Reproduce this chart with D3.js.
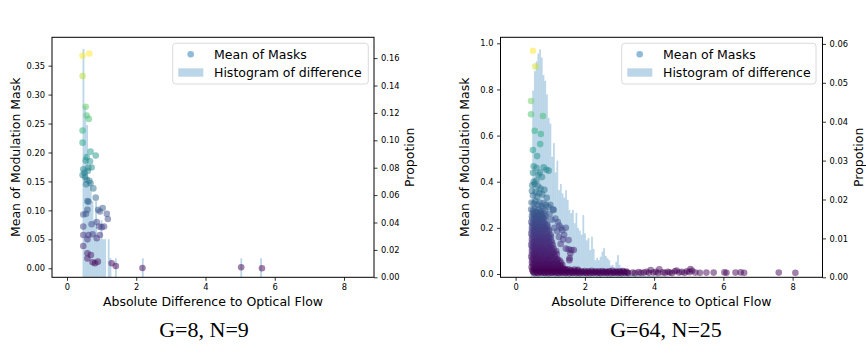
<!DOCTYPE html>
<html><head><meta charset="utf-8">
<script src="https://cdn.jsdelivr.net/npm/d3@7"></script>
<style>body{margin:0;background:#fff}svg{display:block}text{font-family:"DejaVu Sans",sans-serif}</style>
</head><body>
<svg id="c" width="866" height="356"></svg>
<script>
// ---------------- DATA ----------------
const xTicks = [0, 2, 4, 6, 8];
const leftMaskTicks = [0, 0.05, 0.10, 0.15, 0.20, 0.25, 0.30, 0.35];
const leftPropTicks = [0, 0.02, 0.04, 0.06, 0.08, 0.10, 0.12, 0.14, 0.16];
const rightMaskTicks = [0, 0.2, 0.4, 0.6, 0.8, 1.0];
const rightPropTicks = [0, 0.01, 0.02, 0.03, 0.04, 0.05, 0.06];
const captions = ["G=8, N=9", "G=64, N=25"];
const legendLabels = ["Mean of Masks", "Histogram of difference"];

// left panel histogram (bin left edge, proportion)
const leftHistW = 0.0518;
const leftHistX = [0.45,0.502,0.554,0.606,0.658,0.710,0.762,0.814,0.866,0.918,0.970,1.022,1.074,1.178,1.230,1.385,2.163,5.008,5.578];
const leftHistP = [0.1667,0.125,0.1111,0.0694,0.0694,0.0556,0.0417,0.0556,0.0278,0.0278,0.0417,0.0278,0.0278,0.0278,0.0139,0.0139,0.0139,0.0139,0.0139];

// left panel scatter (difference, mean mask)
const leftPts = [
[0.45,0.367],[0.645,0.371],[0.45,0.332],[0.54,0.279],[0.57,0.264],[0.63,0.258],[0.45,0.238],[0.45,0.217],
[0.68,0.2015],[0.83,0.1946],[0.57,0.192],[0.54,0.186],[0.665,0.185],[0.71,0.174],[0.616,0.174],[0.47,0.171],
[0.45,0.161],[0.52,0.158],[0.57,0.153],[0.645,0.151],[0.68,0.147],[0.5,0.165],[0.6,0.168],[0.55,0.145],
[0.76,0.138],[0.83,0.122],[0.59,0.116],[0.62,0.115],[0.59,0.101],[0.47,0.093],[0.55,0.094],[0.9,0.101],
[0.95,0.098],[1.03,0.104],[1.15,0.094],[1.18,0.085],[0.47,0.072],[0.71,0.076],[0.86,0.080],[0.93,0.072],
[1.0,0.071],[1.07,0.072],[0.47,0.0575],[0.62,0.0575],[0.59,0.050],[0.74,0.0587],[0.86,0.052],[0.95,0.0575],
[0.47,0.0385],[0.59,0.026],[0.69,0.0229],[0.59,0.017],[0.74,0.0104],[0.81,0.0086],[0.89,0.0114],
[1.29,0.0086],[1.41,0.004],[2.18,0.0005],[5.03,0.0017],[5.63,0.000]
];

// right panel histogram
const rightHistStart = 0.43, rightHistW = 0.05;
const rightHistP = [
0.002,0.048,0.053,0.0555,0.0575,0.0586,0.0565,0.052,0.0505,0.047,
0.041,0.0395,0.031,0.0345,0.027,0.030,0.0224,0.024,0.0216,0.0205,
0.0224,0.0199,0.0173,0.0165,0.0173,0.0139,0.0166,0.0127,0.012,0.011,
0.016,0.0113,0.0095,0.0101,0.007,0.0104,0.0073,0.0044,0.005,0.0044,
0.0053,0.0066,0.0075,0.0055,0.0049,0.0044,0.003,0.0032,0.0025,0.004,
0.0057,0.0032,0.0025,0.0015,0.001,0.0012,0.0008,0.001,0.0006,0.0009,
0.0007,0.0005,0.0008,0.0006,0.0004,0.0006,0.0005,0.0004,0.0005,0.0003,
0.0004,0.0003,0.0004,0.0003,0.0002,0.0003,0.0002,0.0003,0.0002,0.0002
];

// right panel scatter (difference, mean mask)
const rightPts = [
[0.50,0.968],[0.57,0.899],[0.445,0.75],[0.445,0.692],[0.79,0.685],[0.55,0.621],[0.73,0.607],[0.71,0.563],
[0.50,0.537],[0.62,0.511],[0.52,0.467],[0.60,0.46],[0.81,0.462],[0.89,0.452],[0.955,0.448],[0.5,0.439],
[0.66,0.43],[0.7,0.44],[0.76,0.42],[0.52,0.40],[0.6,0.405],[0.48,0.385],[0.55,0.39],[0.65,0.38],
[0.72,0.37],[0.83,0.365],[0.47,0.36],[0.58,0.355],[0.68,0.35],[0.77,0.345],[0.5,0.34],[0.62,0.335],[0.9,0.33],
[0.81,0.306],[1.10,0.277],[1.08,0.28],[1.04,0.235],[1.15,0.24],[1.22,0.225],[1.26,0.21],[1.31,0.2],
[1.35,0.19],[1.45,0.2],[1.2,0.185],[1.37,0.15],[1.53,0.147],[1.45,0.11],[1.53,0.107],[1.61,0.104],
[1.68,0.104],[1.58,0.09],[1.55,0.06],[1.56,0.068],[1.3,0.13],[1.25,0.16],[1.4,0.17],[1.12,0.2],
[0.98,0.26],[0.95,0.29],[0.88,0.3],[1.0,0.3],
[0.46,0.31],[0.52,0.305],[0.57,0.315],[0.63,0.3],[0.69,0.31],[0.75,0.295],
[0.45,0.28],[0.5,0.275],[0.55,0.285],[0.61,0.27],[0.66,0.28],[0.72,0.27],[0.78,0.285],[0.85,0.275],
[0.49,0.264],[0.545,0.26],[0.6,0.266],[0.655,0.258],[0.71,0.263],[0.765,0.259],[0.82,0.262],
[0.47,0.25],[0.52,0.255],[0.58,0.245],[0.63,0.25],[0.69,0.24],[0.74,0.255],[0.8,0.245],[0.87,0.25],
[0.48,0.238],[0.535,0.236],[0.59,0.24],[0.645,0.235],[0.7,0.239],[0.755,0.234],[0.81,0.238],[0.86,0.236],
[0.45,0.225],[0.5,0.22],[0.55,0.23],[0.6,0.22],[0.65,0.225],[0.71,0.215],[0.77,0.225],[0.83,0.22],[0.9,0.215],
[0.475,0.212],[0.525,0.21],[0.575,0.214],[0.63,0.209],[0.68,0.213],[0.735,0.208],[0.79,0.212],[0.85,0.21],[0.92,0.211],
[0.47,0.2],[0.52,0.195],[0.57,0.205],[0.62,0.195],[0.68,0.2],[0.73,0.19],[0.79,0.2],[0.85,0.195],[0.92,0.2],[0.97,0.19],
[0.47,0.188],[0.52,0.186],[0.575,0.19],[0.625,0.185],[0.675,0.189],[0.73,0.184],[0.785,0.188],[0.84,0.186],[0.9,0.188],[0.96,0.185],
[0.45,0.175],[0.5,0.17],[0.55,0.18],[0.6,0.17],[0.65,0.175],[0.7,0.165],[0.76,0.175],[0.82,0.17],[0.88,0.175],[0.95,0.165],[1.01,0.17],
[0.475,0.162],[0.525,0.16],[0.58,0.164],[0.63,0.159],[0.685,0.163],[0.74,0.158],[0.795,0.162],[0.85,0.16],[0.91,0.163],[0.97,0.159],[1.02,0.161],
[0.47,0.15],[0.52,0.145],[0.57,0.155],[0.62,0.145],[0.67,0.15],[0.73,0.14],[0.78,0.15],[0.84,0.145],[0.9,0.15],[0.96,0.14],[1.03,0.145],
[0.47,0.137],[0.52,0.135],[0.575,0.139],[0.63,0.134],[0.685,0.138],[0.74,0.133],[0.8,0.137],[0.86,0.135],[0.92,0.138],[0.98,0.134],[1.05,0.136],
[0.45,0.125],[0.5,0.12],[0.55,0.13],[0.6,0.12],[0.65,0.125],[0.71,0.115],[0.76,0.125],[0.82,0.12],[0.88,0.125],[0.94,0.115],[1.0,0.12],[1.07,0.125],
[0.475,0.112],[0.525,0.11],[0.58,0.114],[0.635,0.109],[0.69,0.113],[0.745,0.108],[0.8,0.112],[0.86,0.11],[0.92,0.113],[0.98,0.109],[1.04,0.111],[1.1,0.11],
[0.47,0.1],[0.52,0.095],[0.57,0.105],[0.62,0.095],[0.68,0.1],[0.73,0.09],[0.79,0.1],[0.85,0.095],[0.91,0.1],[0.97,0.09],[1.04,0.1],[1.11,0.095],[1.17,0.1],
[0.47,0.087],[0.525,0.085],[0.58,0.089],[0.635,0.084],[0.69,0.088],[0.75,0.083],[0.81,0.087],[0.87,0.085],[0.93,0.088],[0.99,0.084],[1.05,0.086],[1.12,0.085],[1.19,0.087],
[0.45,0.075],[0.5,0.07],[0.55,0.08],[0.6,0.07],[0.65,0.075],[0.71,0.065],[0.76,0.075],[0.82,0.07],[0.88,0.075],[0.94,0.065],[1.0,0.075],[1.07,0.07],[1.14,0.075],[1.21,0.065],
[0.475,0.062],[0.53,0.06],[0.585,0.064],[0.64,0.059],[0.7,0.063],[0.76,0.058],[0.82,0.062],[0.88,0.06],[0.94,0.063],[1.0,0.059],[1.06,0.061],[1.13,0.06],[1.2,0.062],[1.27,0.058],
[0.47,0.05],[0.52,0.045],[0.57,0.055],[0.62,0.045],[0.68,0.05],[0.73,0.04],[0.79,0.05],[0.85,0.045],[0.91,0.05],[0.97,0.04],[1.03,0.05],[1.1,0.045],[1.17,0.05],[1.24,0.04],[1.31,0.05],
[0.49,0.04],[0.545,0.038],[0.6,0.041],[0.66,0.037],[0.72,0.04],[0.78,0.036],[0.84,0.04],[0.9,0.038],[0.96,0.041],[1.02,0.037],[1.09,0.04],[1.16,0.038],[1.22,0.041],[1.29,0.037],[1.35,0.039],
[0.46,0.03],[0.53,0.025],[0.6,0.03],[0.67,0.025],[0.74,0.03],[0.81,0.025],[0.88,0.03],[0.95,0.025],[1.02,0.03],[1.09,0.025],[1.16,0.03],[1.23,0.025],[1.3,0.03],[1.37,0.025],[1.44,0.02],
[0.48,0.018],[0.56,0.02],[0.64,0.017],[0.72,0.019],[0.8,0.018],[0.88,0.02],[0.96,0.017],[1.04,0.019],[1.12,0.018],[1.2,0.02],[1.28,0.017],[1.36,0.019],[1.44,0.018],[1.52,0.02],[1.6,0.017],[1.7,0.019],[1.8,0.018],
[0.5,0.012],[0.6,0.014],[0.7,0.011],[0.8,0.013],[0.9,0.012],[1.0,0.014],[1.1,0.011],[1.2,0.013],[1.3,0.012],[1.4,0.015],
[1.5,0.011],[1.6,0.013],[1.7,0.012],[1.8,0.014],[1.9,0.011],[2.0,0.013],[2.1,0.012],[2.2,0.014],[2.3,0.011],[2.4,0.012],
[2.5,0.013],[2.6,0.011],[2.7,0.012],[2.8,0.014],[2.9,0.011],[3.0,0.012],[3.1,0.013],[3.2,0.011],
[0.52,0.008],[0.62,0.007],[0.72,0.009],[0.82,0.006],[0.92,0.008],[1.02,0.007],[1.12,0.009],[1.22,0.006],[1.32,0.008],[1.42,0.007],
[1.52,0.009],[1.62,0.006],[1.72,0.008],[1.82,0.007],[1.92,0.009],[2.02,0.006],[2.12,0.008],[2.22,0.007],[2.32,0.009],[2.42,0.006],
[2.52,0.008],[2.62,0.007],[2.72,0.009],[2.82,0.006],[2.92,0.008],[3.02,0.007],[3.12,0.009],[3.22,0.006],
[0.55,0.004],[0.65,0.003],[0.75,0.005],[0.85,0.004],[0.95,0.003],[1.05,0.005],[1.15,0.004],[1.25,0.003],[1.35,0.005],[1.45,0.004],
[1.55,0.003],[1.65,0.005],[1.75,0.004],[1.85,0.003],[1.95,0.005],[2.05,0.004],[2.15,0.003],[2.25,0.005],[2.35,0.004],[2.45,0.003],
[2.55,0.005],[2.65,0.004],[2.75,0.003],[2.85,0.005],[2.95,0.004],[3.05,0.003],[3.15,0.005],[3.25,0.004],
[3.38,0.006],[3.45,0.004],[3.55,0.008],[3.62,0.005],[3.7,0.006],[3.78,0.01],[3.85,0.005],[3.9,0.017],[3.98,0.006],
[4.05,0.009],[4.12,0.004],[4.15,0.02],[4.25,0.007],[4.32,0.005],[4.4,0.01],[4.45,0.006],[4.52,0.004],[4.6,0.012],
[4.65,0.015],[4.72,0.006],[4.8,0.009],[4.88,0.005],[4.95,0.012],[5.02,0.008],[5.05,0.022],[5.1,0.014],[5.19,0.006],
[5.32,0.005],[5.51,0.006],[5.72,0.006],[6.03,0.007],[6.09,0.005],[6.35,0.006],[6.5,0.007],[6.6,0.005],[7.6,0.006],[8.08,0.005]
];

// ---------------- DRAWING ----------------
const svg = d3.select("#c");
const yTop = 37.3, yBottom = 277.3;
const fmt2 = d3.format(".2f"), fmt1 = d3.format(".1f");

function panel(o) {
  const x = d3.scaleLinear().domain(o.xDom).range([o.left, o.right]);
  const yM = d3.scaleLinear().domain(o.mDom).range([yBottom, yTop]);
  const yP = d3.scaleLinear().domain(o.pDom).range([yBottom, yTop]);
  const g = svg.append("g");
  const cid = "clip" + o.id;
  g.append("clipPath").attr("id", cid).append("rect")
    .attr("x", o.left).attr("y", yTop).attr("width", o.right - o.left).attr("height", yBottom - yTop);
  const plot = g.append("g").attr("clip-path", `url(#${cid})`);
  plot.selectAll("rect.bar").data(o.hist).enter().append("rect").attr("class", "bar")
    .attr("x", d => x(d[0])).attr("width", d => x(d[0] + o.histW) - x(d[0]))
    .attr("y", d => yP(d[1])).attr("height", d => yP(0) - yP(d[1]))
    .attr("fill", "#1f77b4").attr("fill-opacity", 0.3);
  const vmax = d3.max(o.pts, d => d[1]), vmin = d3.min(o.pts, d => d[1]);
  const col = d3.scaleSequential(d3.interpolateViridis).domain([vmin, vmax]);
  plot.selectAll("circle").data(o.pts).enter().append("circle")
    .attr("cx", d => x(d[0])).attr("cy", d => yM(d[1])).attr("r", 3.3)
    .attr("fill", d => col(d[1])).attr("fill-opacity", 0.5);
  const styleAxis = sel => {
    sel.select(".domain").remove();
    sel.selectAll(".tick line").attr("stroke", "#000").attr("stroke-width", 0.8);
    sel.selectAll(".tick text").attr("fill", "#000").style("font-size", "8.3px").style("font-family", "DejaVu Sans");
  };
  g.append("g").attr("transform", `translate(0,${yBottom})`)
    .call(d3.axisBottom(x).tickValues(xTicks).tickSize(3.5).tickPadding(3.5).tickFormat(d3.format("d"))).call(styleAxis);
  g.append("g").attr("transform", `translate(${o.left},0)`)
    .call(d3.axisLeft(yM).tickValues(o.mTicks).tickSize(3.5).tickPadding(3.5).tickFormat(o.mFmt)).call(styleAxis);
  g.append("g").attr("transform", `translate(${o.right},0)`)
    .call(d3.axisRight(yP).tickValues(o.pTicks).tickSize(3.5).tickPadding(3.5).tickFormat(fmt2)).call(styleAxis);
  g.append("rect").attr("x", o.left).attr("y", yTop).attr("width", o.right - o.left).attr("height", yBottom - yTop)
    .attr("fill", "none").attr("stroke", "#000").attr("stroke-width", 1);
  g.append("text").attr("x", (o.left + o.right) / 2).attr("y", 306).attr("text-anchor", "middle")
    .style("font-size", "12.5px").text("Absolute Difference to Optical Flow");
  g.append("text").attr("transform", `translate(${o.left - 36},${(yTop + yBottom) / 2}) rotate(-90)`)
    .attr("text-anchor", "middle").attr("dy", "0.35em").style("font-size", "12.5px").text("Mean of Modulation Mask");
  g.append("text").attr("transform", `translate(${o.right + 36},${(yTop + yBottom) / 2}) rotate(-90)`)
    .attr("text-anchor", "middle").attr("dy", "0.35em").style("font-size", "12.5px").text("Propotion");
  const lg = g.append("g");
  lg.append("rect").attr("x", o.legX).attr("y", 43.3).attr("width", o.legW).attr("height", 40.7).attr("rx", 3)
    .attr("fill", "#fff").attr("fill-opacity", 0.8).attr("stroke", "#d0d0d0").attr("stroke-width", 0.8);
  lg.append("circle").attr("cx", o.legX + 18).attr("cy", 54.3).attr("r", 3.3)
    .attr("fill", "#1f77b4").attr("fill-opacity", 0.5);
  lg.append("rect").attr("x", o.legX + 5.6).attr("y", 68.3).attr("width", 25).attr("height", 8.4)
    .attr("fill", "#1f77b4").attr("fill-opacity", 0.3);
  lg.selectAll("text.lt").data(legendLabels).enter().append("text").attr("class", "lt")
    .attr("x", o.legX + 41.3).attr("y", (d, i) => 58.8 + i * 18).style("font-size", "12.5px").attr("fill", "#000").text(d => d);
  svg.append("text").attr("x", o.capX).attr("y", 336.5).attr("text-anchor", "middle")
    .style("font-family", "'Liberation Serif','Times New Roman',serif").style("font-size", "22px").attr("fill", "#000")
    .text(o.caption);
}

panel({
  id: "L", left: 52, right: 374, xDom: [-0.433, 8.866],
  mDom: [-0.0156, 0.399], pDom: [0, 0.1752],
  mTicks: leftMaskTicks, pTicks: leftPropTicks, mFmt: fmt2,
  hist: leftHistX.map((e, i) => [e, leftHistP[i]]), histW: leftHistW,
  pts: leftPts, legX: 172.7, legW: 195.6, capX: 204, caption: captions[0]
});
panel({
  id: "R", left: 500.5, right: 822.5, xDom: [-0.437, 8.863],
  mDom: [-0.0143, 1.026], pDom: [0, 0.0617],
  mTicks: rightMaskTicks, pTicks: rightPropTicks, mFmt: fmt1,
  hist: rightHistP.map((p, i) => [rightHistStart + i * rightHistW, p]), histW: rightHistW,
  pts: rightPts, legX: 621.7, legW: 194.3, capX: 666, caption: captions[1]
});
</script>
</body></html>
